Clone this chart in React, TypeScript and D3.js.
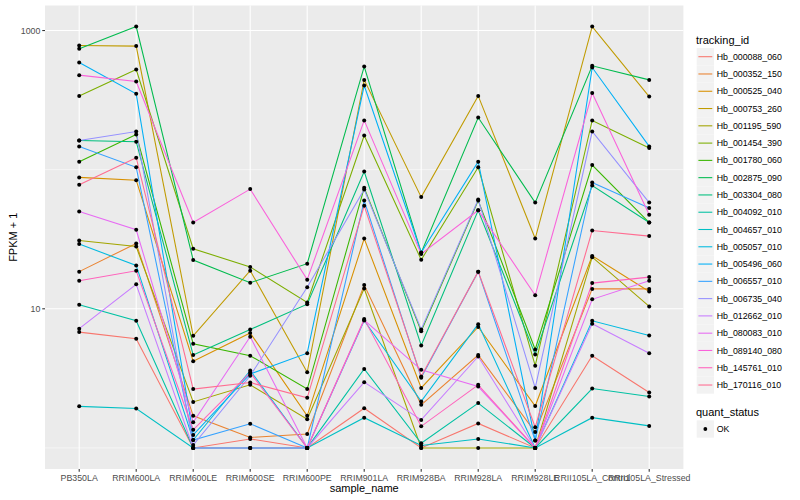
import React from "react";
import * as d3 from "d3";

const samples = [
  "PB350LA", "RRIM600LA", "RRIM600LE", "RRIM600SE", "RRIM600PE", "RRIM901LA",
  "RRIM928BA", "RRIM928LA", "RRIM928LE", "RRII105LA_Control", "RRII105LA_Stressed",
];

const trackingIds = [
  "Hb_000088_060", "Hb_000352_150", "Hb_000525_040", "Hb_000753_260", "Hb_001195_590",
  "Hb_001454_390", "Hb_001780_060", "Hb_002875_090", "Hb_003304_080", "Hb_004092_010",
  "Hb_004657_010", "Hb_005057_010", "Hb_005496_060", "Hb_006557_010", "Hb_006735_040",
  "Hb_012662_010", "Hb_080083_010", "Hb_089140_080", "Hb_145761_010", "Hb_170116_010",
];

const hueColors = [
  "#F8766D", "#EA8331", "#D89000", "#C09B00", "#A3A500", "#7CAE00", "#39B600", "#00BB4E",
  "#00BF7D", "#00C1A3", "#00BFC4", "#00BAE0", "#00B0F6", "#35A2FF", "#9590FF", "#C77CFF",
  "#E76BF3", "#FA62DB", "#FF62BC", "#FF6C91",
];

// FPKM + 1 per sample, one array per tracking_id
const hb000088 = [6.8, 6.1, 1, 1.16, 1, 1.93, 1, 1.5, 1, 4.6, 2.5];
const hb000352 = [18.5, 29.5, 1.7, 1.19, 1.26, 14.8, 2.04, 4.65, 1.3, 13.9, 13.9];
const hb000525 = [88, 84, 4.2, 6.7, 1.7, 32, 2.7, 7.4, 2.0, 24, 13.3];
const hb000753 = [780, 773, 6.4, 18.8, 3.5, 442, 63.5, 339, 32, 1068, 335];
const hb001195 = [31, 28, 2.14, 2.84, 1.61, 14, 1, 1, 1, 23.5, 10.4];
const hb001454 = [339, 524, 27, 20, 11.1, 176, 22.5, 104, 3.9, 226, 143];
const hb001780 = [114, 179, 5.6, 4.6, 2.65, 74, 6.9, 60, 5.1, 108, 41.7];
const hb002875 = [739, 1068, 22.4, 15.4, 21.1, 551, 25.3, 237, 58, 558, 442];
const hb003304 = [162, 159, 4.65, 7.1, 10.8, 97, 5.45, 51, 4.7, 77, 41.7];
const hb004092 = [10.7, 8.2, 1, 1, 1, 3.7, 1.08, 2.1, 1, 2.67, 2.34];
const hb004657 = [1.99, 1.92, 1, 1, 1, 1.65, 1.04, 1.16, 1, 1.65, 1.44];
const hb005057 = [29.2, 20.5, 1.14, 3.6, 1, 8.24, 2.16, 7.76, 1, 8.2, 6.43];
const hb005496 = [589, 351, 1.24, 3.4, 4.8, 402, 25.4, 114, 1.13, 542, 147];
const hb006557 = [147, 104, 1.14, 1.49, 1, 60, 3.2, 18.5, 1.13, 81, 53];
const hb006735 = [162, 188, 1.05, 3.3, 14.3, 72, 7.1, 61, 2.7, 188, 58];
const hb012662 = [7.2, 15, 1, 1, 1, 2.97, 1.59, 4.54, 1, 7.8, 4.8];
const hb080083 = [50, 37, 1.53, 6.3, 1, 8.3, 3.64, 2.76, 1, 11.7, 15.9];
const hb089140 = [478, 430, 41.7, 72.5, 16.2, 226, 24.8, 51, 12.5, 355, 47.4];
const hb145761 = [15.9, 18.75, 1.35, 3.48, 1, 8.43, 1.43, 2.84, 1, 15.3, 16.9];
const hb170116 = [78, 122, 2.65, 2.95, 2.29, 55, 3.26, 18.5, 1.41, 36.5, 33.3];

const seriesValues = [
  hb000088, hb000352, hb000525, hb000753, hb001195, hb001454, hb001780, hb002875,
  hb003304, hb004092, hb004657, hb005057, hb005496, hb006557, hb006735, hb012662,
  hb080083, hb089140, hb145761, hb170116,
];

const majorYTicks = [10, 1000];
const minorYTicks = [1, 100];
const quantStatus = ["OK"];

const W = 800;
const H = 500;
const P = { left: 45, right: 683.4, top: 5.5, bottom: 469 };
const FONT = "'Liberation Sans', Arial, Helvetica, sans-serif";

export default function App() {
  const x = d3.scalePoint<string>().domain(samples).range([P.left, P.right]).padding(0.6);
  const all = seriesValues.flat();
  const lmin = Math.log10(d3.min(all) as number);
  const lmax = Math.log10(d3.max(all) as number);
  const ex = (lmax - lmin) * 0.05;
  const y = d3
    .scaleLog()
    .domain([Math.pow(10, lmin - ex), Math.pow(10, lmax + ex)])
    .range([P.bottom, P.top]);

  const line = d3
    .line<number>()
    .x((_, i) => x(samples[i]) as number)
    .y((d) => y(d));

  const keyH = 17.28;
  const keyX = 696.7;
  const key0 = 56.7 - keyH / 2;
  const qsTitleY = 416;
  const qsKeyTop = 429 - keyH / 2;

  return (
    <svg
      width={W}
      height={H}
      style={{ position: "absolute", left: 0, top: 0, background: "#fff" }}
      fontFamily={FONT}
    >
      <rect x={0} y={0} width={W} height={H} fill="#fff" />
      <rect x={P.left} y={P.top} width={P.right - P.left} height={P.bottom - P.top} fill="#EBEBEB" />
      {minorYTicks.map((t) => (
        <line key={"mn" + t} x1={P.left} x2={P.right} y1={y(t)} y2={y(t)} stroke="#fff" strokeWidth={0.55} />
      ))}
      {majorYTicks.map((t) => (
        <line key={"mj" + t} x1={P.left} x2={P.right} y1={y(t)} y2={y(t)} stroke="#fff" strokeWidth={1.1} />
      ))}
      {samples.map((s) => (
        <line key={"vx" + s} x1={x(s)} x2={x(s)} y1={P.top} y2={P.bottom} stroke="#fff" strokeWidth={1.1} />
      ))}

      {seriesValues.map((vals, i) => (
        <path key={trackingIds[i]} d={line(vals) as string} fill="none" stroke={hueColors[i]} strokeWidth={1.07} />
      ))}
      {seriesValues.map((vals, i) =>
        vals.map((v, j) => (
          <circle key={trackingIds[i] + j} cx={x(samples[j])} cy={y(v)} r={2} fill="#000" />
        ))
      )}

      {/* y axis */}
      {majorYTicks.map((t) => (
        <g key={"yt" + t}>
          <line x1={P.left - 2.75} x2={P.left} y1={y(t)} y2={y(t)} stroke="#333" strokeWidth={1.07} />
          <text x={P.left - 4.6} y={y(t)} dy="0.35em" textAnchor="end" fontSize={8.8} fill="#4D4D4D">
            {t}
          </text>
        </g>
      ))}
      {/* x axis */}
      {samples.map((s) => (
        <g key={"xt" + s}>
          <line x1={x(s)} x2={x(s)} y1={P.bottom} y2={P.bottom + 2.75} stroke="#333" strokeWidth={1.07} />
          <text x={x(s)} y={480.5} textAnchor="middle" fontSize={8.8} fill="#4D4D4D">
            {s}
          </text>
        </g>
      ))}
      <text x={(P.left + P.right) / 2} y={491.5} textAnchor="middle" fontSize={11} fill="#000">
        sample_name
      </text>
      <text
        transform={`translate(16.5, ${(P.top + P.bottom) / 2}) rotate(-90)`}
        textAnchor="middle"
        fontSize={11}
        fill="#000"
      >
        FPKM + 1
      </text>

      {/* legend: tracking_id */}
      <text x={696} y={44.3} fontSize={11} fill="#000">
        tracking_id
      </text>
      {trackingIds.map((id, i) => {
        const top = key0 + i * keyH;
        return (
          <g key={"lg" + id}>
            <rect x={keyX} y={top} width={keyH} height={keyH} fill="#F2F2F2" />
            <line
              x1={keyX + 1.7}
              x2={keyX + keyH - 1.7}
              y1={top + keyH / 2}
              y2={top + keyH / 2}
              stroke={hueColors[i]}
              strokeWidth={1.07}
            />
            <text x={keyX + keyH + 2.8} y={top + keyH / 2} dy="0.35em" fontSize={8.8} fill="#000">
              {id}
            </text>
          </g>
        );
      })}

      {/* legend: quant_status */}
      <text x={696} y={qsTitleY} fontSize={11} fill="#000">
        quant_status
      </text>
      {quantStatus.map((q, i) => {
        const top = qsKeyTop + i * keyH;
        return (
          <g key={"qs" + q}>
            <rect x={keyX} y={top} width={keyH} height={keyH} fill="#F2F2F2" />
            <circle cx={keyX + keyH / 2} cy={top + keyH / 2} r={1.9} fill="#000" />
            <text x={keyX + keyH + 2.8} y={top + keyH / 2} dy="0.35em" fontSize={8.8} fill="#000">
              {q}
            </text>
          </g>
        );
      })}
    </svg>
  );
}
